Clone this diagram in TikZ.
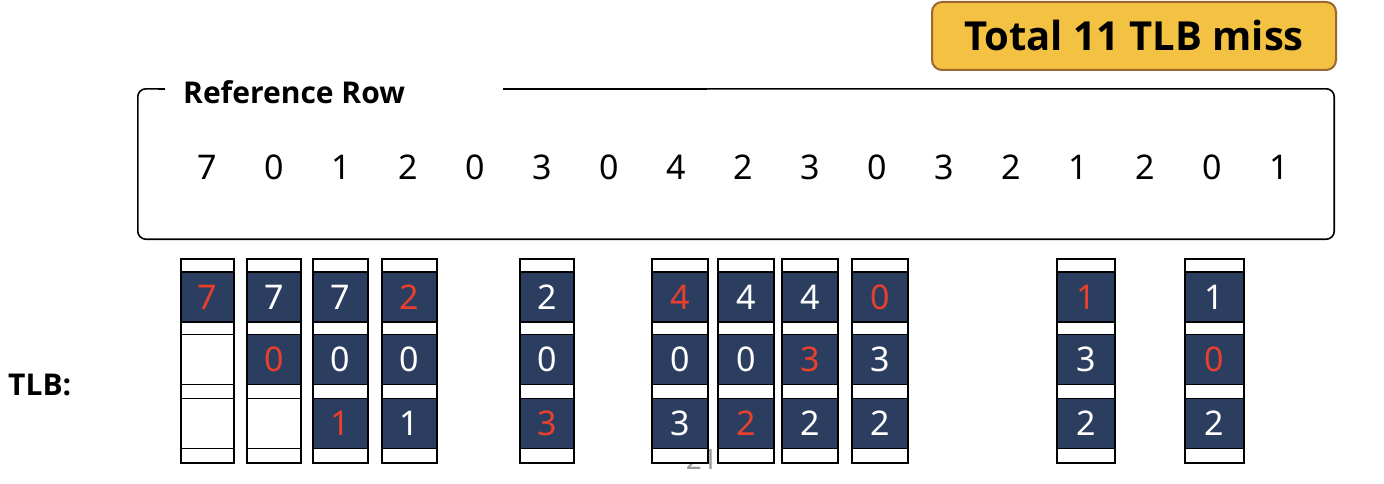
\documentclass[tikz,border=0pt]{standalone}
\usepackage{fontspec}
\setmainfont{Noto Sans}
\newfontfamily\lblfont{Open Sans}
\definecolor{cellblue}{HTML}{2C3E5F}
\definecolor{missred}{HTML}{E8402D}
\definecolor{boxgold}{HTML}{F4C242}
\definecolor{boxedge}{HTML}{9C6630}
\newcommand\R[1]{\textcolor{missred}{#1}}
\newcommand\W[1]{\textcolor{white}{#1}}
\newcommand\tlbcol[9]{%
  \node[colbox, minimum width=#3pt] (#1) at (#2,361) {};
  \node[#4, minimum width=#3pt] (#1-1) at (#2,297) {#5};
  \node[#6, minimum width=#3pt] (#1-2) at (#2,359.5) {#7};
  \node[#8, minimum width=#3pt] (#1-3) at (#2,423.5) {#9};
}
\begin{document}
\begin{tikzpicture}[x=1pt,y=-1pt,
  colbox/.style={draw=black, line width=2pt, fill=white, minimum height=204pt, inner sep=0pt},
  cellD/.style={draw=black, line width=1.6pt, fill=cellblue, minimum height=50pt, inner sep=0pt, font=\fontsize{34}{36}\selectfont},
  cellE/.style={draw=black, line width=1.6pt, fill=white, minimum height=50pt, inner sep=0pt},
  refnum/.style={inner sep=0pt, font=\fontsize{34}{36}\selectfont},
  titlebox/.style={draw=boxedge, line width=2pt, fill=boxgold, rounded corners=10pt, minimum width=404pt, minimum height=68pt, inner sep=0pt, font=\lblfont\bfseries\fontsize{40}{44}\selectfont},
  lbl/.style={inner sep=0pt, font=\lblfont\bfseries\fontsize{30}{34}\selectfont}
]
\useasboundingbox (0,0) rectangle (1384,484);

% title
\node[titlebox] (title) at (1134,36) {Total 11 TLB miss};

% reference row frame
\node[minimum width=1196pt, minimum height=150pt, inner sep=0pt] (row) at (736,164) {};
\coordinate (gapR) at (503,89);
\coordinate (gapL) at (165,89);
\draw[line width=1.6pt, rounded corners=8pt] (gapR) -- (row.north east) -- (row.south east) -- (row.south west) -- (row.north west) -- (gapL);
\node[lbl, anchor=west] (rowlbl) at (183,92) {Reference Row};

% reference numbers
\foreach \v [count=\i] in {7,0,1,2,0,3,0,4,2,3,0,3,2,1,2,0,1} {
  \node[refnum] (r\i) at ({207+67*(\i-1)},167) {\v};
}

% TLB label
\node[lbl, anchor=west] (tlb) at (8,385) {TLB:};

% faint page number behind
\node[inner sep=0pt, anchor=south east, text=gray!80, font=\fontsize{28}{30}\selectfont] (pg) at (718,470) {21};

% TLB columns
\tlbcol{c1}{207.5}{53}{cellD}{\R{7}}{cellE}{}{cellE}{}
\tlbcol{c2}{274}{54}{cellD}{\W{7}}{cellD}{\R{0}}{cellE}{}
\tlbcol{c3}{340.5}{55}{cellD}{\W{7}}{cellD}{\W{0}}{cellD}{\R{1}}
\tlbcol{c4}{409.5}{55}{cellD}{\R{2}}{cellD}{\W{0}}{cellD}{\W{1}}
\tlbcol{c5}{547}{54}{cellD}{\W{2}}{cellD}{\W{0}}{cellD}{\R{3}}
\tlbcol{c6}{680}{56}{cellD}{\R{4}}{cellD}{\W{0}}{cellD}{\W{3}}
\tlbcol{c7}{746}{56}{cellD}{\W{4}}{cellD}{\W{0}}{cellD}{\R{2}}
\tlbcol{c8}{810}{56}{cellD}{\W{4}}{cellD}{\R{3}}{cellD}{\W{2}}
\tlbcol{c9}{880}{56}{cellD}{\R{0}}{cellD}{\W{3}}{cellD}{\W{2}}
\tlbcol{c10}{1086}{58}{cellD}{\R{1}}{cellD}{\W{3}}{cellD}{\W{2}}
\tlbcol{c11}{1214.5}{59}{cellD}{\W{1}}{cellD}{\R{0}}{cellD}{\W{2}}
\end{tikzpicture}
\end{document}
